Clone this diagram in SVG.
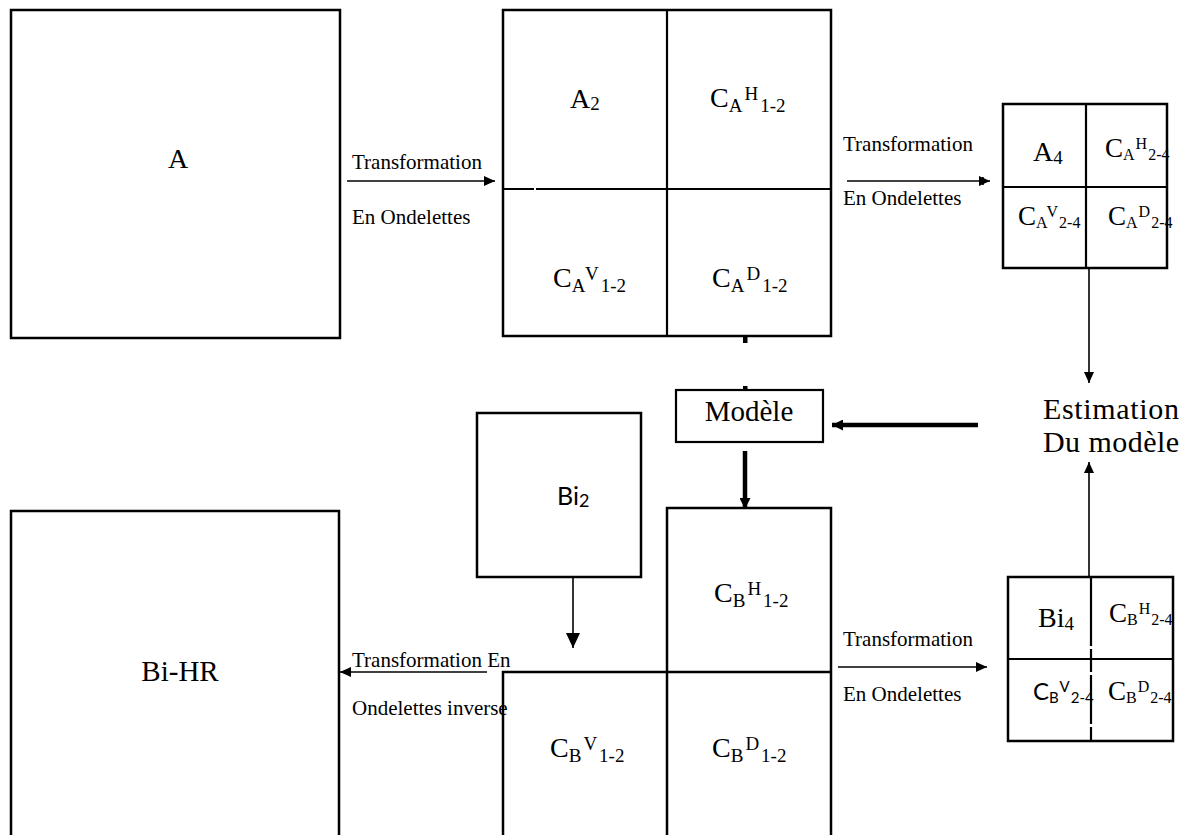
<svg xmlns="http://www.w3.org/2000/svg" width="1188" height="835" viewBox="0 0 1188 835">
  <style>
    .box { fill: none; stroke: #000; stroke-width: 2.5; }
    .in { fill: none; stroke: #000; stroke-width: 2.2; }
    .ln { fill: none; stroke: #000; stroke-width: 1.6; }
    .thick { fill: none; stroke: #000; stroke-width: 4.5; }
    .serif { font-family: "Liberation Serif", "Times New Roman", serif; fill: #000; }
    .sans { font-family: Lato, "Liberation Sans", sans-serif; fill: #000; }
    .lbl { font-size: 21px; }
    .big { font-size: 28px; }
    .sm { font-size: 19px; }
    .xs { font-size: 16px; }
  </style>
  <defs>
    <marker id="ah" markerUnits="userSpaceOnUse" markerWidth="11" markerHeight="10" refX="11" refY="5" orient="auto">
      <path d="M0,0 L11,5 L0,10 z" fill="#000"/>
    </marker>
    <marker id="ahBig" markerUnits="userSpaceOnUse" markerWidth="15" markerHeight="14" refX="15" refY="7" orient="auto">
      <path d="M0,0 L15,7 L0,14 z" fill="#000"/>
    </marker>
    <marker id="ahThick" markerUnits="userSpaceOnUse" markerWidth="11" markerHeight="11" refX="11" refY="5.5" orient="auto">
      <path d="M0,0 L11,5.5 L0,11 z" fill="#000"/>
    </marker>
  </defs>
  <rect width="1188" height="835" fill="#fff"/>

  <!-- source image A -->
  <g id="imgA">
    <rect class="box" x="11" y="10" width="329" height="328"/>
    <text class="serif big" x="178" y="168" text-anchor="middle">A</text>
  </g>

  <!-- first-level wavelet decomposition of A -->
  <g id="gridA12">
    <rect class="box" x="503" y="10" width="328" height="326"/>
    <line class="in" x1="667" y1="10" x2="667" y2="336"/>
    <line class="in" x1="503" y1="189" x2="831" y2="189"/>
    <rect x="534" y="186" width="2" height="6" fill="#fff"/>
    <text class="serif big" x="570" y="108">A<tspan class="sm" dy="2">2</tspan></text>
    <text class="serif big" x="710" y="107">C<tspan class="sm" dy="4.5">A</tspan><tspan class="sm" dx="2" dy="-12">H</tspan><tspan class="sm" dx="2" dy="12">1-2</tspan></text>
    <text class="serif big" x="553" y="287">C<tspan class="sm" dy="4.5">A</tspan><tspan class="sm" dx="2" dy="-12">V</tspan><tspan class="sm" dx="2" dy="12">1-2</tspan></text>
    <text class="serif big" x="712" y="287">C<tspan class="sm" dy="4.5">A</tspan><tspan class="sm" dx="2" dy="-12">D</tspan><tspan class="sm" dx="2" dy="12">1-2</tspan></text>
  </g>

  <!-- second-level decomposition of A -->
  <g id="gridA24">
    <rect class="box" x="1003" y="104" width="164" height="164"/>
    <line class="in" x1="1086" y1="104" x2="1086" y2="268"/>
    <line class="in" x1="1003" y1="187" x2="1167" y2="187"/>
    <text class="serif big" x="1033" y="161">A<tspan class="sm" dy="3">4</tspan></text>
    <text class="serif" font-size="27" x="1105" y="157">C<tspan class="xs" dy="3">A</tspan><tspan class="xs" dx="1" dy="-11">H</tspan><tspan class="xs" dx="1" dy="11">2-4</tspan></text>
    <text class="serif" font-size="27" x="1018" y="225">C<tspan class="xs" dy="3">A</tspan><tspan class="xs" dx="1" dy="-11">V</tspan><tspan class="xs" dx="1" dy="11">2-4</tspan></text>
    <text class="serif" font-size="27" x="1108" y="225">C<tspan class="xs" dy="3">A</tspan><tspan class="xs" dx="1" dy="-11">D</tspan><tspan class="xs" dx="1" dy="11">2-4</tspan></text>
  </g>

  <!-- model block -->
  <g id="modele">
    <rect class="in" x="676" y="390" width="147" height="52"/>
    <text class="serif" font-size="29" x="749" y="421" text-anchor="middle">Modèle</text>
  </g>

  <!-- model estimation label -->
  <g id="estimation">
    <text class="serif" font-size="30" x="1043" y="419" textLength="136">Estimation</text>
    <text class="serif" font-size="30" x="1043" y="452" textLength="136">Du modèle</text>
  </g>

  <!-- low-resolution image Bi2 -->
  <g id="bi2">
    <rect class="box" x="477" y="413" width="164" height="164"/>
    <text class="sans" font-size="25" x="557" y="505">Bi<tspan font-size="18" dy="2">2</tspan></text>
  </g>

  <!-- reconstructed high-resolution image -->
  <g id="biHR">
    <rect class="box" x="11" y="511" width="328" height="340"/>
    <text class="serif" font-size="29" x="180" y="681" text-anchor="middle">Bi-HR</text>
  </g>

  <!-- estimated detail coefficients of B, level 1-2 -->
  <g id="gridB12">
    <path class="box" d="M503,850 V672 H831 M667,850 V508 H831 V850"/>
    <text class="serif big" x="714" y="602">C<tspan class="sm" dy="4.5">B</tspan><tspan class="sm" dx="2" dy="-12">H</tspan><tspan class="sm" dx="2" dy="12">1-2</tspan></text>
    <text class="serif big" x="550" y="757">C<tspan class="sm" dy="4.5">B</tspan><tspan class="sm" dx="2" dy="-12">V</tspan><tspan class="sm" dx="2" dy="12">1-2</tspan></text>
    <text class="serif big" x="712" y="757">C<tspan class="sm" dy="4.5">B</tspan><tspan class="sm" dx="2" dy="-12">D</tspan><tspan class="sm" dx="2" dy="12">1-2</tspan></text>
  </g>

  <!-- decomposition of Bi2 -->
  <g id="gridB24">
    <rect class="box" x="1008" y="577" width="165" height="164"/>
    <line class="in" x1="1008" y1="659" x2="1173" y2="659"/>
    <path class="in" d="M1091,577 V646 M1091,649 V672 M1091,675 V724 M1091,727 V741"/>
    <text class="serif big" x="1038" y="627">Bi<tspan class="sm" dy="3">4</tspan></text>
    <text class="serif" font-size="27" x="1109" y="622">C<tspan class="xs" dy="3">B</tspan><tspan class="xs" dx="1" dy="-11">H</tspan><tspan class="xs" dx="1" dy="11">2-4</tspan></text>
    <text class="sans" font-size="24" x="1033" y="700">C<tspan font-size="15" dy="3">B</tspan><tspan font-size="15" dx="1" dy="-11">V</tspan><tspan font-size="15" dx="1" dy="11">2-4</tspan></text>
    <text class="serif" font-size="27" x="1108" y="700">C<tspan class="xs" dy="3">B</tspan><tspan class="xs" dx="1" dy="-11">D</tspan><tspan class="xs" dx="1" dy="11">2-4</tspan></text>
  </g>

  <!-- connectors and transform labels -->
  <g id="connectors">
    <line class="ln" x1="347" y1="181" x2="495" y2="181" marker-end="url(#ah)"/>
    <text class="serif lbl" x="352" y="169">Transformation</text>
    <text class="serif lbl" x="352" y="224">En Ondelettes</text>

    <line class="ln" x1="847" y1="181" x2="990" y2="181" marker-end="url(#ah)"/>
    <line class="ln" x1="983" y1="177" x2="983" y2="185"/>
    <text class="serif lbl" x="843" y="151">Transformation</text>
    <text class="serif lbl" x="843" y="205">En Ondelettes</text>

    <line class="ln" x1="1089" y1="268" x2="1089" y2="383" marker-end="url(#ah)"/>
    <line class="ln" x1="1089" y1="577" x2="1089" y2="462" marker-end="url(#ah)"/>

    <line class="thick" x1="978" y1="425" x2="832" y2="425" marker-end="url(#ahThick)"/>
    <line class="thick" x1="745" y1="451" x2="745" y2="509" marker-end="url(#ahThick)"/>
    <rect x="743" y="336" width="4.5" height="7" fill="#000"/>
    <rect x="743" y="386" width="4.5" height="4" fill="#000"/>

    <line class="ln" x1="573" y1="577" x2="573" y2="648" marker-end="url(#ahBig)"/>

    <line class="ln" x1="487" y1="672" x2="340" y2="672" marker-end="url(#ah)"/>
    <text class="serif lbl" x="352" y="667">Transformation En</text>
    <text class="serif lbl" x="352" y="715">Ondelettes inverse</text>

    <line class="ln" x1="838" y1="667" x2="987" y2="667" marker-end="url(#ah)"/>
    <text class="serif lbl" x="843" y="646">Transformation</text>
    <text class="serif lbl" x="843" y="701">En Ondelettes</text>
  </g>
</svg>
